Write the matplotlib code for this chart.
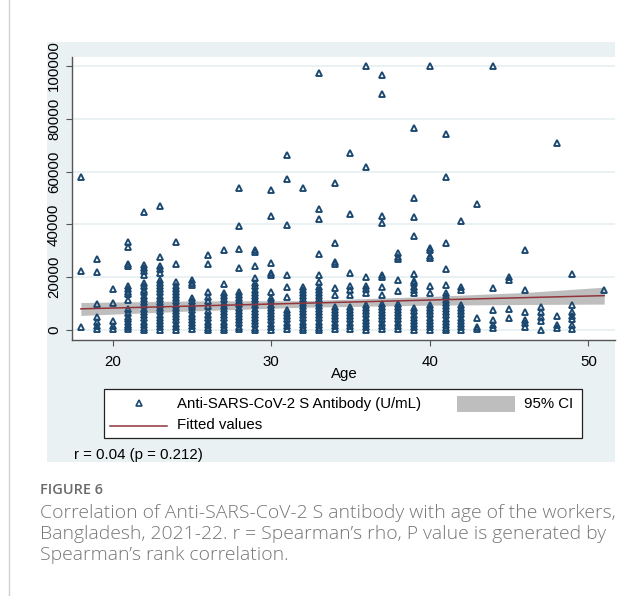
import numpy as np
import matplotlib
matplotlib.use("Agg")
import matplotlib.pyplot as plt
from matplotlib.patches import Rectangle
from matplotlib.lines import Line2D

# ages and antibody values (U/mL), one list per age
ages = [18, 19, 20, 21, 22, 23, 24, 25, 26, 27, 28, 29, 30, 31, 32, 33, 34,
        35, 36, 37, 38, 39, 40, 41, 42, 43, 44, 45, 46, 47, 48, 49, 51]
antibody_by_age = [
    [58000, 22500, 1300],
    [27000, 21800, 10000, 4800, 3200, 1500, 300],
    [15500, 10300, 3300, 1500, 200],
    [33500, 31500, 24800, 24300, 16500, 15500, 14500, 13500, 11500, 8000, 6500, 5000, 4000, 3000, 2000, 1000, 300],
    [44500, 24600, 23400, 22300, 20800, 17700, 16500, 15300, 14200, 13000, 11800, 10500, 9300, 8000, 6800, 5600, 4400, 3200, 2000, 800, 0],
    [47000, 27500, 24300, 23000, 21500, 19000, 17800, 16600, 15400, 14200, 13000, 11800, 10600, 9400, 8200, 7000, 5800, 4600, 3400, 2200, 1000, 0],
    [33300, 25000, 18000, 16800, 15600, 14400, 13200, 12000, 10800, 9600, 8400, 7200, 6000, 4800, 3600, 2400, 1200, 0],
    [18900, 17800, 17000, 12000, 10800, 9600, 8600, 7400, 6200, 5000, 3800, 2600, 1400, 300],
    [28400, 25000, 14500, 12600, 11000, 9000, 7000, 5500, 4400, 3200, 2000, 800, 0],
    [30300, 17500, 14000, 12800, 11600, 10400, 9200, 8000, 6800, 5600, 4400, 3200, 2000, 800, 0],
    [53700, 39400, 30600, 23500, 14500, 13300, 12100, 10900, 9700, 8500, 7300, 6100, 4900, 3700, 2500, 1300, 200],
    [30300, 29700, 24200, 19600, 17700, 16500, 15300, 14100, 12900, 11700, 10500, 9300, 8100, 6900, 5700, 4500, 3300, 2100, 900, 0],
    [53000, 43200, 25300, 21500, 21000, 14500, 12000, 10800, 9600, 8400, 7200, 6000, 4800, 3600, 2400, 1200, 0],
    [66300, 57200, 39800, 20800, 16400, 12600, 7600, 6400, 5200, 4000, 2800, 1600, 400],
    [53900, 16400, 15200, 14000, 12800, 11600, 10400, 9200, 8000, 6800, 5600, 4400, 3200, 2000, 800, 0],
    [97300, 45800, 42000, 28700, 20800, 18000, 16400, 15200, 14000, 12800, 11600, 10400, 9200, 8000, 6800, 5600, 4400, 3200, 2000, 800, 0],
    [55600, 32800, 25600, 25000, 15800, 13300, 8800, 7600, 6400, 5200, 4000, 2800, 1600, 400],
    [66900, 44000, 21500, 16800, 15200, 13200, 8800, 7600, 6400, 5200, 4000, 2800, 1600, 400],
    [100000, 61600, 20000, 16800, 15500, 13900, 9500, 8300, 7100, 5900, 4700, 3500, 2300, 1100, 0],
    [96600, 89300, 43200, 40400, 20800, 20200, 16400, 13300, 10000, 8800, 7600, 6400, 5200, 4000, 2800, 1600, 400],
    [29300, 27800, 27000, 18900, 14900, 10000, 8800, 7600, 6400, 5200, 4000, 2800, 1600, 400],
    [76400, 50000, 42700, 35600, 21200, 18700, 17700, 16400, 15200, 13900, 8200, 7000, 5800, 4600, 3400, 2200, 1000, 0],
    [100000, 30900, 30300, 28000, 27200, 16800, 14000, 9500, 8300, 7100, 5900, 4700, 3500, 2300, 1100, 0],
    [74300, 57800, 33100, 23000, 17000, 13900, 12700, 11500, 10300, 9100, 7900, 6700, 5500, 4300, 3100, 1900, 700, 0],
    [41300, 16400, 15200, 9500, 8300, 7100, 5900, 4700, 3500, 2300, 1100, 0],
    [47700, 4400, 1200, 200],
    [100000, 15800, 7600, 3800, 1900, 600],
    [20000, 18900, 7800, 4700],
    [30300, 15200, 6900, 3800, 2500, 1000],
    [8800, 6900, 5000, 3400, 0],
    [70700, 5300, 1900, 600],
    [21200, 9500, 6900, 5300, 4000, 1900, 300],
    [15200],
]

# fitted line and 95% CI band
fit_age = [18, 51]
fit_value = [8000, 13000]
ci_age = [18, 25, 32, 40, 46, 51]
ci_low = [5500, 7200, 8600, 9400, 9650, 9800]
ci_high = [10400, 11000, 11100, 12700, 14200, 16200]

navy = "#1a476f"
maroon = "#90353b"
ci_gray = "#bebebe"
region = "#e9f1f3"
cap_gray = "#767676"

plt.rcParams["font.family"] = ["Liberation Sans", "DejaVu Sans"]
fs = 10.8

fig = plt.figure(figsize=(6.44, 5.96), dpi=100)
W, H = 644, 596

def fx(px):
    return px / W

def fy(py):
    return 1 - py / H

# page border line on the left
fig.add_artist(Line2D([fx(9), fx(9)], [0, 1], color="#d0d0d0", lw=1))

# stata graph region
fig.add_artist(Rectangle((fx(47), fy(462)), fx(615) - fx(47), fy(42) - fy(462),
                         facecolor=region, edgecolor="none", zorder=0))

ax = fig.add_axes([fx(72), fy(340), fx(615) - fx(72), fy(56.7) - fy(340)])
ax.set_facecolor("white")

ax.fill_between(ci_age, ci_low, ci_high, color=ci_gray, lw=0, zorder=2)
for a, vals in zip(ages, antibody_by_age):
    ax.plot([a] * len(vals), vals, linestyle="none", marker="^", markersize=5,
            mfc="none", mec=navy, mew=1.35, zorder=3)
ax.plot(fit_age, fit_value, color=maroon, lw=1.1, zorder=4)

ax.set_xlim(17.44, 51.68)
ax.set_ylim(-3800, 103500)
ax.set_xticks([20, 30, 40, 50])
ax.set_yticks([0, 20000, 40000, 60000, 80000, 100000])
ax.grid(axis="y", color=region, lw=1.4, zorder=0)
ax.set_axisbelow(True)
for s in ["top", "right"]:
    ax.spines[s].set_visible(False)
for s in ["left", "bottom"]:
    ax.spines[s].set_color("#555555")
    ax.spines[s].set_linewidth(1.0)
ax.tick_params(axis="x", length=4, width=0.8, color="#555555", pad=7, labelsize=fs)
ax.tick_params(axis="y", length=4, width=0.8, color="#555555", pad=4, labelsize=fs)
for lab in ax.get_yticklabels():
    lab.set_rotation(90)
    lab.set_va("center")
fig.text(fx(344), fy(374), "Age", fontsize=fs, ha="center", va="center")

# legend box drawn in figure pixels
fig.add_artist(Rectangle((fx(104), fy(438)), fx(582) - fx(104), fy(389) - fy(438),
                         facecolor="white", edgecolor="#222222", lw=0.9, zorder=5))
fig.add_artist(Line2D([fx(139)], [fy(403)], marker="^", markersize=4.2, mfc="none",
                      mec=navy, mew=1.2, zorder=6))
fig.text(fx(177), fy(404), "Anti-SARS-CoV-2 S Antibody (U/mL)", fontsize=fs,
         va="center", ha="left", zorder=6)
fig.add_artist(Rectangle((fx(457), fy(412)), fx(515) - fx(457), fy(396) - fy(412),
                         facecolor=ci_gray, edgecolor="none", zorder=6))
fig.text(fx(524), fy(404), "95% CI", fontsize=fs, va="center", ha="left", zorder=6)
fig.add_artist(Line2D([fx(110), fx(167)], [fy(425.5), fy(425.5)], color=maroon, lw=1.1, zorder=6))
fig.text(fx(177), fy(425), "Fitted values", fontsize=fs, va="center", ha="left", zorder=6)

fig.text(fx(74), fy(455), "r = 0.04 (p = 0.212)", fontsize=fs, va="center", ha="left")

# caption, sized so that each block spans the width it has in the reference
cap_font = ["Open Sans", "DejaVu Sans"]
renderer = fig.canvas.get_renderer()

def fit_size(txt, target_px, start=12):
    w = txt.get_window_extent(renderer=renderer).width
    txt.set_fontsize(start * target_px / w)

head = fig.text(fx(40), fy(490), "FIGURE 6", fontsize=10, color="#6a6a6a", va="center",
                ha="left", family=cap_font, weight="semibold")
fit_size(head, 63, 10)
caption = ["Correlation of Anti-SARS-CoV-2 S antibody with age of the workers,",
           "Bangladesh, 2021-22. r = Spearman\u2019s rho, P value is generated by",
           "Spearman\u2019s rank correlation."]
cap_texts = []
for i, line in enumerate(caption):
    t = fig.text(fx(40), fy(513 + 21 * i), line, fontsize=12, color=cap_gray,
                 va="center", ha="left", family=cap_font, weight="light")
    cap_texts.append(t)
w0 = cap_texts[0].get_window_extent(renderer=renderer).width
for t in cap_texts:
    t.set_fontsize(12 * 575 / w0)

fig.savefig("out.png", dpi=100)
